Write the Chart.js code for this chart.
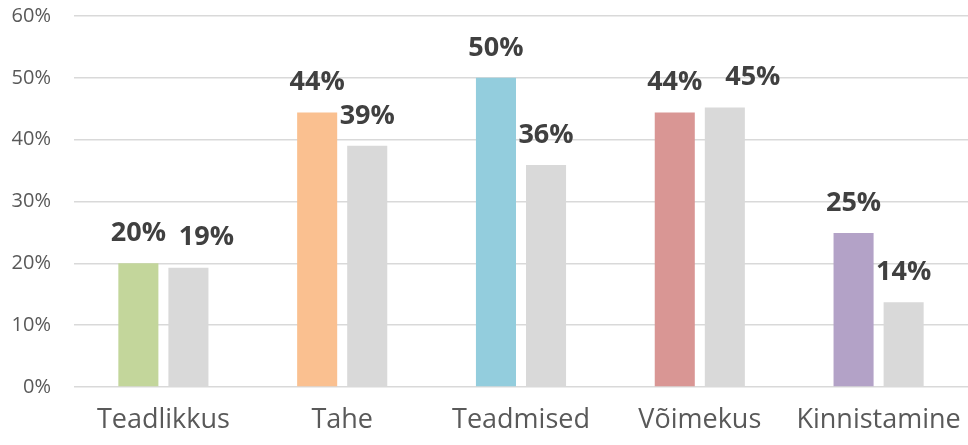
<!DOCTYPE html>
<html>
<head>
<meta charset="utf-8">
<script src="https://cdn.jsdelivr.net/npm/chart.js@4/dist/chart.umd.min.js"></script>
<style>
  html, body { margin: 0; padding: 0; background: #fff; overflow: hidden; }
  #wrap { width: 968px; height: 445px; }
  canvas { display: block; }
</style>
</head>
<body>
<div id="wrap"><canvas id="chart" width="968" height="445"></canvas></div>
<script>
const categories = ['Teadlikkus', 'Tahe', 'Teadmised', 'Võimekus', 'Kinnistamine']
const firstValues = [20, 44.4, 50, 44.4, 24.9]
const secondValues = [19.3, 39.0, 35.9, 45.2, 13.7]
const categoryColors = ['#C3D69B', '#FAC090', '#93CDDD', '#D99694', '#B3A2C7']
const yTicks = [0, 10, 20, 30, 40, 50, 60]

// draws the bold % labels above every bar
const barLabels = {
    id: 'barLabels',
    afterDatasetsDraw(chart, args, opts) {
        const ctx = chart.ctx
        ctx.save()
        ctx.font = opts.font
        ctx.fillStyle = opts.color
        ctx.textAlign = 'center'
        ctx.textBaseline = 'middle'
        chart.data.datasets.forEach((ds, di) => {
            const meta = chart.getDatasetMeta(di)
            meta.data.forEach((bar, i) => {
                const shift = (opts.nudge && opts.nudge[di + '-' + i]) || 0
                ctx.fillText(Math.round(ds.data[i]) + '%', bar.x + shift, bar.y - opts.offset)
            })
        })
        ctx.restore()
    }
}

new Chart(document.getElementById('chart').getContext('2d'), {
    type: 'bar',
    data: {
        labels: categories,
        datasets: [
            {
                data: firstValues,
                backgroundColor: categoryColors,
                categoryPercentage: 0.56,
                barPercentage: 0.8
            },
            {
                data: secondValues,
                backgroundColor: '#D9D9D9',
                categoryPercentage: 0.56,
                barPercentage: 0.8
            }
        ]
    },
    options: {
        responsive: false,
        animation: false,
        layout: {
            padding: { top: 16, right: 0, bottom: 0, left: 0 }
        },
        plugins: {
            legend: { display: false },
            tooltip: { enabled: false },
            barLabels: {
                font: 'bold 27px "Open Sans"',
                color: '#404040',
                offset: 30,
                nudge: { '1-0': 18, '1-3': 28 }
            }
        },
        scales: {
            x: {
                afterFit: (scale) => {
                    scale.height = 58
                    scale.paddingLeft = 0
                    scale.paddingRight = 0
                },
                grid: { display: false, drawTicks: false },
                border: { display: false },
                ticks: {
                    color: '#595959',
                    padding: 17,
                    maxRotation: 0,
                    font: { family: 'Open Sans', size: 27 }
                }
            },
            y: {
                min: 0,
                max: 60,
                afterBuildTicks: (scale) => {
                    scale.ticks = yTicks.map(v => ({ value: v }))
                },
                afterFit: (scale) => {
                    scale.width = 74
                    scale.paddingTop = 0
                    scale.paddingBottom = 0
                },
                grid: {
                    color: '#D9D9D9',
                    lineWidth: 1.4,
                    drawTicks: false
                },
                border: { display: false },
                ticks: {
                    color: '#595959',
                    padding: 23,
                    font: { family: 'Open Sans', size: 20 },
                    callback: v => v + '%'
                }
            }
        }
    },
    plugins: [barLabels]
})
</script>
</body>
</html>
